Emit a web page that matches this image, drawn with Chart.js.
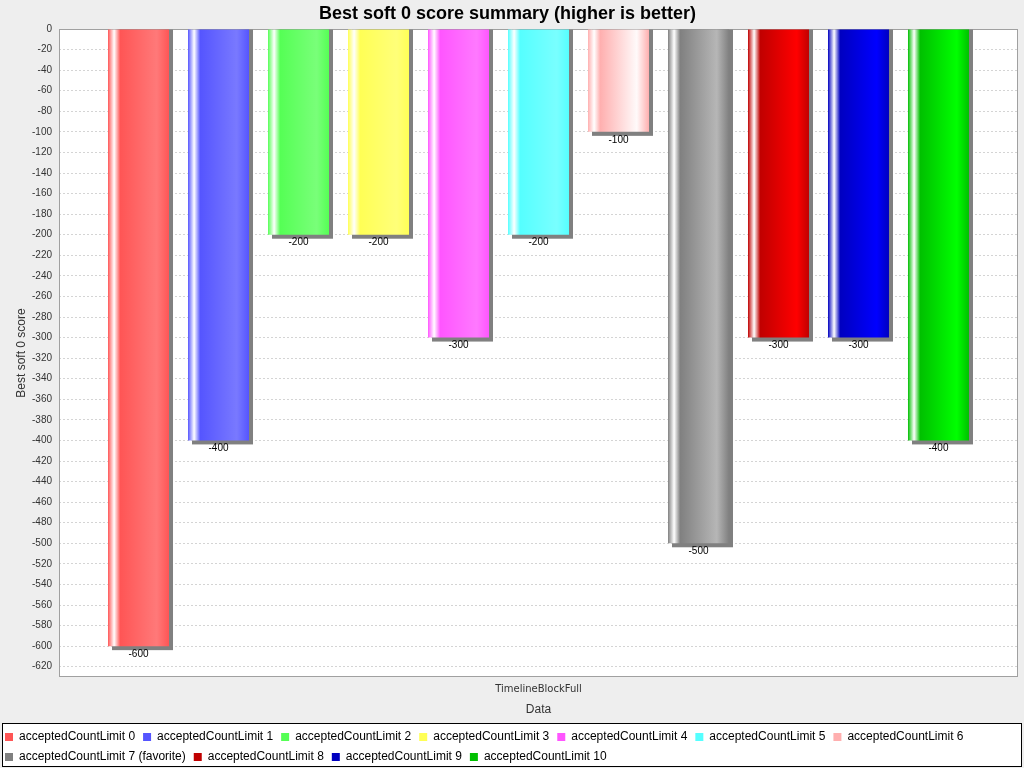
<!DOCTYPE html>
<html>
<head>
<meta charset="utf-8">
<script src="https://cdn.jsdelivr.net/npm/chart.js@4.4.1/dist/chart.umd.min.js"></script>
<style>
  html, body { margin: 0; padding: 0; background: #eeeeee; }
  #wrap { width: 1024px; height: 768px; }
</style>
</head>
<body>
<div id="wrap"><canvas id="c" width="1024" height="768"></canvas></div>
<script>
const chartTitle = 'Best soft 0 score summary (higher is better)';
const categories = ['TimelineBlockFull'];
const seriesNames = [
  'acceptedCountLimit 0', 'acceptedCountLimit 1', 'acceptedCountLimit 2',
  'acceptedCountLimit 3', 'acceptedCountLimit 4', 'acceptedCountLimit 5',
  'acceptedCountLimit 6', 'acceptedCountLimit 7 (favorite)', 'acceptedCountLimit 8',
  'acceptedCountLimit 9', 'acceptedCountLimit 10'
];
const seriesValues = [-600, -400, -200, -200, -300, -200, -100, -500, -300, -300, -400];
const seriesColors = ['#ff5555', '#5555ff', '#55ff55', '#ffff55', '#ff55ff', '#55ffff',
                      '#ffafaf', '#808080', '#c00000', '#0000c0', '#00c000'];
const yTitle = 'Best soft 0 score';
const xTitle = 'Data';
const yMin = -630, yMax = 0, yStep = 20, yLowestTick = -620;

Chart.defaults.font.family = '"Liberation Sans", Arial, sans-serif';

function brighter(hex) {
  let r = parseInt(hex.slice(1, 3), 16), g = parseInt(hex.slice(3, 5), 16), b = parseInt(hex.slice(5, 7), 16);
  const i = 3;
  if (r === 0 && g === 0 && b === 0) return 'rgb(3,3,3)';
  if (r > 0 && r < i) r = i;
  if (g > 0 && g < i) g = i;
  if (b > 0 && b < i) b = i;
  return 'rgb(' + Math.min(Math.floor(r / 0.7), 255) + ',' + Math.min(Math.floor(g / 0.7), 255) + ',' + Math.min(Math.floor(b / 0.7), 255) + ')';
}

const deco = {
  id: 'deco',
  beforeDraw(chart) {
    const { ctx, chartArea: a } = chart;
    ctx.save();
    ctx.fillStyle = '#eeeeee';
    ctx.fillRect(0, 0, chart.width, chart.height);
    ctx.fillStyle = '#ffffff';
    ctx.fillRect(a.left, a.top, a.right - a.left, a.bottom - a.top);
    ctx.fillRect(3, 724, 1018, 42);
    ctx.restore();
  },
  beforeDatasetsDraw(chart) {
    const { ctx, chartArea: a } = chart;
    ctx.save();
    ctx.strokeStyle = '#a0a0a0';
    ctx.lineWidth = 1;
    ctx.strokeRect(Math.round(a.left) + 0.5, Math.round(a.top) + 0.5, Math.round(a.right - a.left) - 1, Math.round(a.bottom - a.top) - 1);
    ctx.beginPath();
    ctx.rect(a.left, a.top, a.right - a.left, a.bottom - a.top);
    ctx.clip();
    chart.data.datasets.forEach((ds, i) => {
      const meta = chart.getDatasetMeta(i);
      meta.data.forEach(el => {
        const l = el.x - el.width / 2, r = el.x + el.width / 2;
        const top = Math.min(el.base, el.y), h = Math.abs(el.y - el.base);
        ctx.fillStyle = '#808080';
        ctx.fillRect(l + 4, top, el.width, h + 4);
        const c0 = ds.backgroundColor, c1 = brighter(c0);
        const g = ctx.createLinearGradient(l, 0, r, 0);
        g.addColorStop(0, c0);
        g.addColorStop(0.10, '#ffffff');
        g.addColorStop(0.20, c0);
        g.addColorStop(0.80, c1);
        g.addColorStop(1, c0);
        el.options = Object.assign({}, el.options, { backgroundColor: g });
      });
    });
    ctx.restore();
  },
  afterDatasetsDraw(chart) {
    const { ctx } = chart;
    ctx.save();
    ctx.font = '10px "Liberation Sans", Arial, sans-serif';
    ctx.fillStyle = '#000000';
    ctx.textAlign = 'center';
    ctx.textBaseline = 'middle';
    chart.data.datasets.forEach((ds, i) => {
      const meta = chart.getDatasetMeta(i);
      meta.data.forEach((el, j) => {
        ctx.fillText(String(ds.data[j]), el.x, el.y + 8);
      });
    });
    ctx.restore();
  },
  afterDraw(chart) {
    const { ctx } = chart;
    ctx.save();
    ctx.strokeStyle = '#000000';
    ctx.lineWidth = 1;
    ctx.strokeRect(2.5, 723.5, 1019, 43);
    ctx.restore();
  }
};

const datasets = seriesNames.map((name, i) => ({
  label: name,
  data: [seriesValues[i]],
  backgroundColor: seriesColors[i],
  borderWidth: 0,
  categoryPercentage: 0.9176,
  barPercentage: 0.7625
}));

new Chart(document.getElementById('c'), {
  type: 'bar',
  data: { labels: categories, datasets },
  plugins: [deco],
  options: {
    responsive: false,
    animation: false,
    devicePixelRatio: 1,
    layout: { padding: { left: -3, right: 6, top: 0, bottom: -5 } },
    plugins: {
      title: {
        display: true,
        text: chartTitle,
        color: '#000000',
        font: { size: 18, weight: 'bold', lineHeight: 1.2 },
        padding: { top: 3, bottom: 4.4 }
      },
      legend: {
        display: true,
        position: 'bottom',
        align: 'start',
        labels: {
          color: '#000000',
          font: { size: 12 },
          boxWidth: 8,
          boxHeight: 8,
          padding: 8
        }
      },
      tooltip: { enabled: false }
    },
    scales: {
      x: {
        type: 'category',
        offset: true,
        grid: { display: false, drawTicks: false },
        border: { display: false },
        ticks: { color: '#333333', font: { family: '"DejaVu Sans"', size: 10 }, padding: 6 },
        title: { display: true, text: xTitle, color: '#333333', font: { size: 12, lineHeight: 1.2 }, padding: { top: 0, bottom: 6 } },
        afterFit(scale) { scale.height = 46; }
      },
      y: {
        type: 'linear',
        min: yMin,
        max: yMax,
        grid: { color: '#d4d4d4', lineWidth: 1, drawTicks: false },
        border: { display: false, dash: [2, 2] },
        ticks: { stepSize: yStep, autoSkip: false, color: '#333333', font: { size: 10 }, padding: 7 },
        title: { display: true, text: yTitle, color: '#333333', font: { size: 12, lineHeight: 1.2 }, padding: { top: 17, bottom: 0 } },
        afterBuildTicks(scale) {
          const t = [];
          for (let v = yLowestTick; v <= yMax; v += yStep) t.push({ value: v });
          scale.ticks = t;
        },
        afterFit(scale) { scale.width = 62; }
      }
    }
  }
});
</script>
</body>
</html>
